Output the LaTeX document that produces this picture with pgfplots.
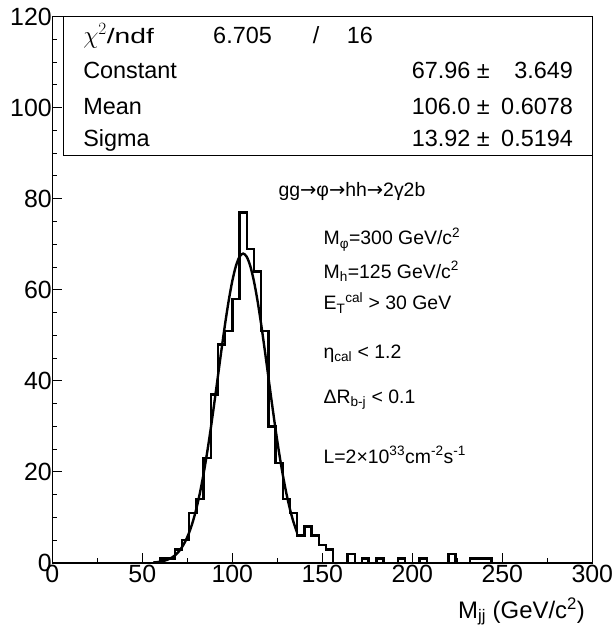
\documentclass[border=0pt]{standalone}
\usepackage{fontspec}
\setmainfont{Liberation Sans}
\newfontfamily\dejavu{DejaVu Sans}
\usepackage{graphicx}
\usepackage{pgfplots}
\pgfplotsset{compat=1.18}
\newcommand{\arr}{{\dejavu →}}
\newcommand{\sub}[1]{\textsubscript{#1}}
\newcommand{\sups}[1]{\textsuperscript{#1}}
\begin{document}
\begin{tikzpicture}
\begin{axis}[
 scale only axis, width=540bp, height=546.4bp,
 xmin=0, xmax=300, ymin=0, ymax=120,
 axis line style={line width=1.2bp},
 tick align=inside, tick pos=left,
 xtick={0,50,...,300}, ytick={0,20,...,120},
 minor x tick num=1, minor y tick num=3,
 major tick length=10bp, minor tick length=5bp,
 every tick/.style={black, line width=1bp},
 tick label style={font=\fontsize{25}{28}\selectfont},
 /pgf/number format/assume math mode=true,
 yticklabel style={xshift=3bp},
 xticklabel style={yshift=1bp},
 clip=false,
]
\addplot[const plot, line width=2.4bp, black] coordinates {
(0,0) (60,1) (64,1) (68,3) (72,5) (76,11) (80,14) (84,23) (88,37) (92,48)
(96,51) (100,58) (104,77) (108,69) (112,64) (116,51) (120,30) (124,22)
(128,14) (132,11) (136,6) (140,8) (144,6) (148,4) (152,3) (156,0) (164,2)
(168,0) (172,1) (176,0) (180,1) (184,0) (192,1) (196,0) (204,1) (208,0)
(220,2) (224,0) (232,1) (244,0) (300,0)};
\addplot[smooth, line width=2.4bp, black] coordinates {
(56,0.107) (58,0.178) (60,0.289) (62,0.460) (64,0.716) (66,1.094) (68,1.637)
(70,2.398) (72,3.442) (74,4.837) (76,6.663) (78,8.987) (80,11.874) (82,15.372)
(84,19.493) (86,24.209) (88,29.454) (90,35.105) (92,40.983) (94,46.867)
(96,52.504) (98,57.615) (100,61.931) (102,65.211) (104,67.262) (106,67.96)
(108,67.262) (110,65.211) (112,61.931) (114,57.615) (116,52.504) (118,46.867)
(120,40.983) (122,35.105) (124,29.454) (126,24.209) (128,19.493) (130,15.372)
(132,11.874) (134,8.987) (136,6.663)};
\draw[line width=1.2bp, fill=white] (axis cs:6,89.46) rectangle (axis cs:300,120);
\begin{scope}[every node/.style={font=\fontsize{23.5}{27}\selectfont, inner sep=0pt}]
\node[anchor=base west] at (axis cs:17.1,114.14) {$\chi^{2}$\scalebox{1.35}[1]{\fontsize{21}{24}\selectfont/ndf}};
\node[anchor=base west] at (axis cs:89.3,114.14) {6.705};
\node[anchor=base] at (axis cs:146.5,114.14) {/};
\node[anchor=base west] at (axis cs:163.5,114.14) {16};
\node[anchor=base west] at (axis cs:17.1,106.46) {Constant};
\node[anchor=base east] at (axis cs:243.2,106.46) {67.96 ±};
\node[anchor=base east] at (axis cs:289.3,106.46) {3.649};
\node[anchor=base west] at (axis cs:17.1,98.40) {Mean};
\node[anchor=base east] at (axis cs:243.2,98.40) {106.0 ±};
\node[anchor=base east] at (axis cs:289.3,98.40) {0.6078};
\node[anchor=base west] at (axis cs:17.1,91.43) {Sigma};
\node[anchor=base east] at (axis cs:243.2,91.43) {13.92 ±};
\node[anchor=base east] at (axis cs:289.3,91.43) {0.5194};
\end{scope}
\begin{scope}[every node/.style={font=\fontsize{19.5}{22}\selectfont, inner sep=0pt, anchor=base west}]
\node at (axis cs:125.6,80.45) {gg\arr φ\arr hh\arr 2γ2b};
\node at (axis cs:150.6,69.84) {M\sub{φ}=300 GeV/c\sups{2}};
\node at (axis cs:150.6,62.53) {M\sub{h}=125 GeV/c\sups{2}};
\node at (axis cs:150.6,55.57) {E\sub{T}\sups{cal} > 30 GeV};
\node at (axis cs:150.6,44.96) {η\sub{cal} < 1.2};
\node at (axis cs:150.6,35.08) {ΔR\sub{b-j} < 0.1};
\node at (axis cs:150.6,21.90) {L=2×10\sups{33}cm\sups{-2}s\sups{-1}};
\end{scope}
\node[anchor=base east, inner sep=0pt, font=\fontsize{24}{28}\selectfont] at (axis cs:296,-12.1) {M\sub{jj} (GeV/c\sups{2})};
\end{axis}
\pgfresetboundingbox
\path ([shift={(-52.3bp,-74bp)}]current axis.south west) rectangle ([shift={(20.7bp,16.6bp)}]current axis.north east);
\end{tikzpicture}
\end{document}
